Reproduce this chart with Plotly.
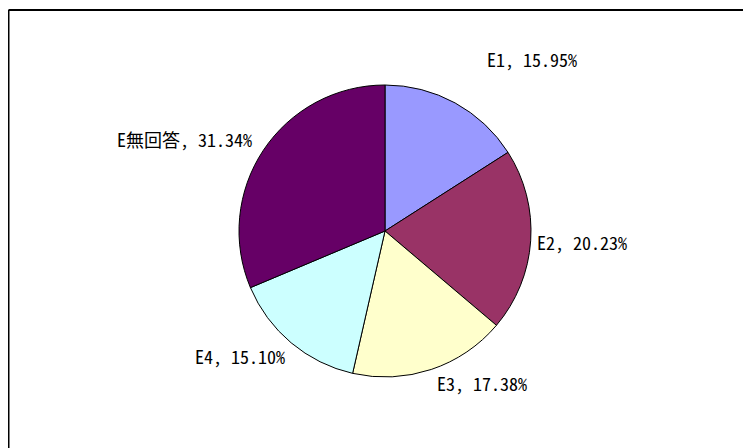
import math
import plotly.graph_objects as go

categories = ["E1", "E2", "E3", "E4", "E無回答"]
values = [15.95, 20.23, 17.38, 15.10, 31.34]
colors = ["#9999FF", "#993366", "#FFFFCC", "#CCFFFF", "#660066"]

# page has an 8px body margin; the figure starts at (8, 8)
W, H = 743, 440
cx, cy, r = 377, 223, 146
label_r = 157
# small layout nudges (px) to match the original label placement
nudges = [(25, -19), (-7, -14), (0, -12), (3, -10), (0, 10)]

fig = go.Figure(go.Pie(
    labels=categories,
    values=values,
    sort=False,
    direction="clockwise",
    rotation=0,
    marker=dict(colors=colors, line=dict(color="black", width=1)),
    textinfo="none",
    hoverinfo="label+percent",
    showlegend=False,
    domain=dict(x=[(cx - r) / W, (cx + r) / W], y=[(H - cy - r) / H, (H - cy + r) / H]),
))

annotations = []
total = sum(values)
cum = 0.0
for (lab, v), (dx, dy) in zip(zip(categories, values), nudges):
    mid = (cum + v / 2) / total * 2 * math.pi
    cum += v
    s, c = math.sin(mid), math.cos(mid)
    px = cx + label_r * s + dx
    py = cy - label_r * c + dy
    annotations.append(dict(
        x=px / W, y=(H - py) / H, xref="paper", yref="paper",
        text=f"{lab}, {v:.2f}%", showarrow=False,
        xanchor="left" if s > 0 else "right",
        yanchor="bottom" if c > 0 else "top",
        font=dict(family="Noto Sans Mono CJK JP, Noto Sans CJK JP", size=18, color="black"),
    ))

fig.update_layout(
    width=W, height=H,
    margin=dict(l=0, r=0, t=0, b=0),
    paper_bgcolor="white", plot_bgcolor="white",
    annotations=annotations,
    shapes=[
        dict(type="line", xref="paper", yref="paper", x0=0.5 / W, y0=(H - 2) / H, x1=1, y1=(H - 2) / H,
             line=dict(color="black", width=2)),
        dict(type="line", xref="paper", yref="paper", x0=0.5 / W, y0=(H - 2) / H, x1=0.5 / W, y1=0,
             line=dict(color="black", width=2)),
    ],
)

fig.write_html("out.html")
